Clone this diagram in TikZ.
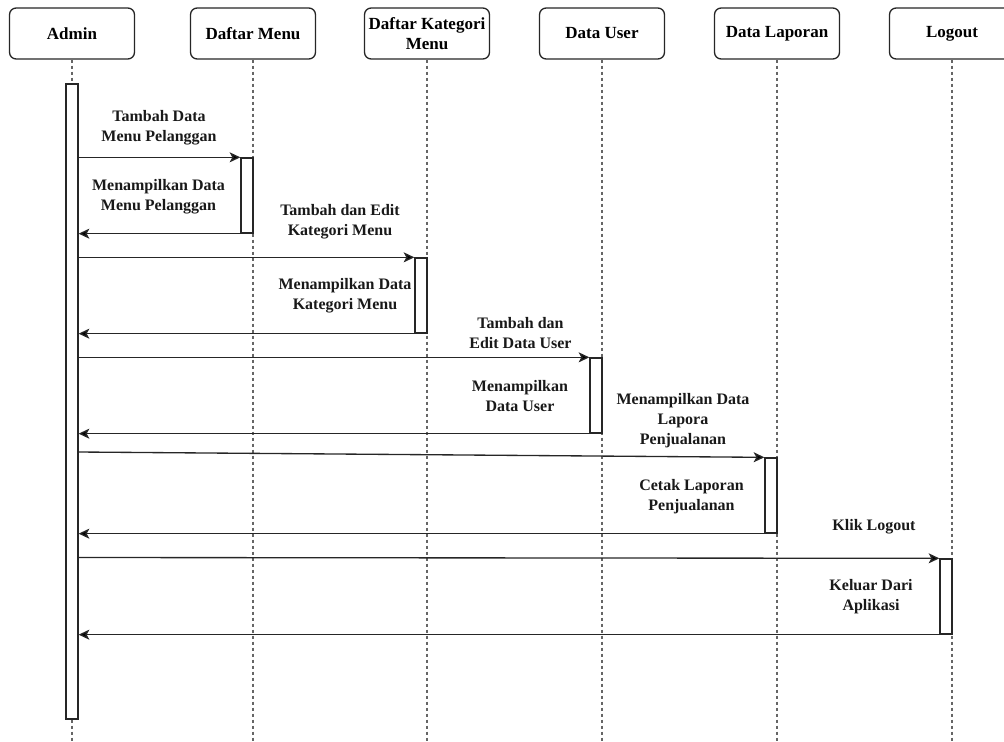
\documentclass[tikz,border=0pt]{standalone}
\usepackage{fontspec}
\setmainfont{Liberation Serif}
\newfontfamily\tnr{Liberation Serif}
\usetikzlibrary{arrows.meta,calc}
\definecolor{ln}{HTML}{262626}
\definecolor{ll}{HTML}{666666}
\begin{document}
\begin{tikzpicture}[x=0.75pt,y=-0.75pt,
  head/.style={draw=ln, line width=1pt, rounded corners=5pt, fill=white,
    minimum width=93.75pt, minimum height=38.25pt, inner sep=0pt, align=center,
    font=\tnr\fontsize{12.75}{14.5}\selectfont\bfseries},
  life/.style={draw=ll, line width=0.8pt, dash pattern=on 2.25pt off 2.25pt},
  act/.style={draw=ln, line width=1pt, fill=white, minimum width=9pt, inner sep=0pt},
  msg/.style={draw=ln, line width=1pt, -{Stealth[length=8pt,width=7.5pt,inset=2pt,fill=black]}},
  lbl/.style={align=center, inner sep=0pt, text=black!90,
    font=\tnr\fontsize{12}{15}\selectfont\bfseries}]
\useasboundingbox (0,0) rectangle (1004,742);
\clip (0,0) rectangle (1004,742);
\coordinate (bottom) at (0,742);
% headers
\node[head] (admin) at (72,33.5) {Admin};
\node[head] (dm) at (253,33.5) {Daftar Menu};
\node[head] (kat) at (427,33.5) {Daftar Kategori\\Menu};
\node[head] (usr) at (602,33.5) {Data User};
\node[head] (lap) at (777,33.5) {Data Laporan};
\node[head] (lgo) at (952,33.5) {Logout};
% lifelines
\foreach \n in {admin,dm,kat,usr,lap,lgo}
  \draw[life] (\n.south) -- (\n.south |- bottom);
% activations
\node[act, minimum height=476.25pt] (aact) at (72,401.5) {};
\node[act, minimum height=56.25pt] (dmact) at (247,195.5) {};
\node[act, minimum height=56.25pt] (katact) at (421,295.5) {};
\node[act, minimum height=56.25pt] (usract) at (596,395.5) {};
\node[act, minimum height=56.25pt] (lapact) at (771,495.5) {};
\node[act, minimum height=56.25pt] (lgoact) at (946,596.5) {};
\coordinate (s7) at (78,452);
\coordinate (s9) at (78,557.5);
% messages
\draw[msg] (aact.east |- dmact.north) -- (dmact.north west);
\draw[msg] (dmact.south west) -- (aact.east |- dmact.south);
\draw[msg] (aact.east |- katact.north) -- (katact.north west);
\draw[msg] (katact.south west) -- (aact.east |- katact.south);
\draw[msg] (aact.east |- usract.north) -- (usract.north west);
\draw[msg] (usract.south west) -- (aact.east |- usract.south);
\draw[msg] (s7) -- (lapact.north west);
\draw[msg] (lapact.south west) -- (aact.east |- lapact.south);
\draw[msg] (s9) -- (lgoact.north west);
\draw[msg] (lgoact.south west) -- (aact.east |- lgoact.south);
% labels
\node[lbl] (l1) at (159,128) {Tambah Data\\Menu Pelanggan};
\node[lbl] (l2) at (158.5,197) {Menampilkan Data\\Menu Pelanggan};
\node[lbl] (l3) at (340,222) {Tambah dan Edit\\Kategori Menu};
\node[lbl] (l4) at (345,295.5) {Menampilkan Data\\Kategori Menu};
\node[lbl] (l5) at (520.5,333.5) {Tambah dan\\Edit Data User};
\node[lbl] (l6) at (520,396.5) {Menampilkan\\Data User};
\node[lbl] (l7) at (683,421) {Menampilkan Data\\Lapora\\Penjualanan};
\node[lbl] (l8) at (691.5,497) {Cetak Laporan\\Penjualanan};
\node[lbl] (l9) at (874,527) {Klik Logout};
\node[lbl] (l10) at (871,597) {Keluar Dari\\Aplikasi};
\end{tikzpicture}
\end{document}
